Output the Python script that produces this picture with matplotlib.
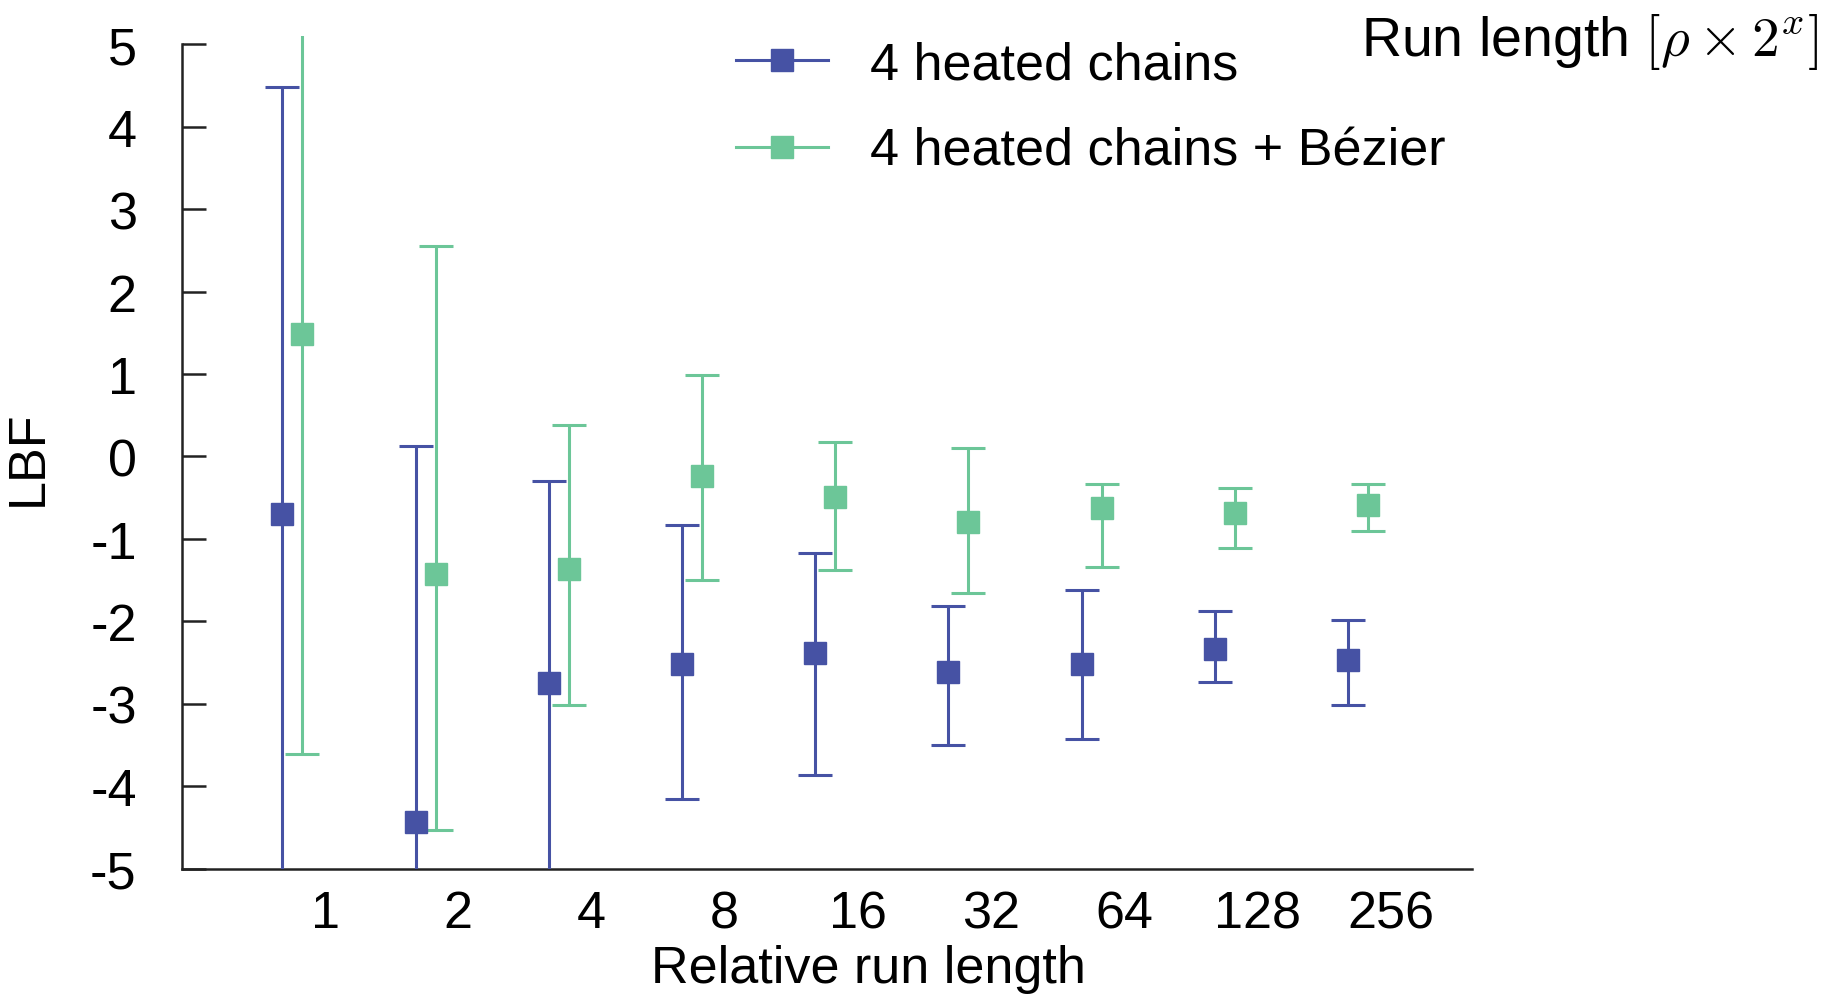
import matplotlib
matplotlib.use("Agg")
import matplotlib.pyplot as plt
from matplotlib.lines import Line2D
import numpy as np

plt.rcParams["font.family"] = ["Liberation Sans", "DejaVu Sans"]
plt.rcParams["mathtext.fontset"] = "cm"
plt.rcParams["axes.unicode_minus"] = False

# relative run lengths (x categories)
run_lengths = ["1", "2", "4", "8", "16", "32", "64", "128", "256"]

# 4 heated chains: mean LBF and interval ends
plain_mean = [-0.70, -4.43, -2.75, -2.52, -2.38, -2.61, -2.52, -2.34, -2.47]
plain_high = [4.48, 0.13, -0.30, -0.83, -1.17, -1.81, -1.62, -1.88, -1.99]
plain_low = [-6.5, -6.5, -6.5, -4.15, -3.86, -3.50, -3.43, -2.74, -3.02]

# 4 heated chains + Bezier
bezier_mean = [1.48, -1.42, -1.37, -0.24, -0.49, -0.80, -0.63, -0.69, -0.59]
bezier_high = [6.0, 2.55, 0.38, 0.99, 0.18, 0.10, -0.34, -0.38, -0.34]
bezier_low = [-3.61, -4.53, -3.02, -1.50, -1.38, -1.66, -1.34, -1.11, -0.90]

BLUE = "#4652a4"
GREEN = "#6cc698"
FS = 37.5
LW = 2.2

fig = plt.figure(figsize=(18.23, 9.95), dpi=100)
ax = fig.add_axes([0.1001, 0.126, 0.7073, 0.8368])

idx = np.arange(len(run_lengths))


def draw_series(x, mean, low, high, color):
    mean = np.array(mean)
    yerr = [mean - np.array(low), np.array(high) - mean]
    ax.errorbar(x, mean, yerr=yerr, fmt="s", color=color, ms=15.5,
                elinewidth=LW, capsize=12.5, capthick=LW, zorder=3)


draw_series(idx, plain_mean, plain_low, plain_high, BLUE)
draw_series(idx + 0.15, bezier_mean, bezier_low, bezier_high, GREEN)

ax.set_xlim(-0.75, 8.93)
ax.set_ylim(-5, 5.1)

for side in ("top", "right"):
    ax.spines[side].set_visible(False)
ax.spines["left"].set_bounds(-5, 5)
for side in ("left", "bottom"):
    ax.spines[side].set_linewidth(1.8)
    ax.spines[side].set_color("#222222")

ax.set_yticks(range(-5, 6))
ax.tick_params(axis="y", direction="in", length=17.5, width=1.8,
               color="#222222", labelsize=FS, pad=33)
ax.set_xticks(idx + 0.32)
ax.set_xticklabels(run_lengths)
ax.tick_params(axis="x", length=0, labelsize=FS, pad=15)

ax.set_ylabel("LBF", fontsize=FS)
ax.yaxis.set_label_coords(-0.101, 0.494)

fig.text(868 / 1823, 0.012, "Relative run length", fontsize=FS,
         ha="center", va="baseline")
fig.text(1819 / 1823, (995 - 56) / 995, r"Run length $[\rho \times 2^x]$",
         fontsize=40, ha="right", va="baseline")

handles = [
    Line2D([], [], color=BLUE, marker="s", ms=15.5, lw=LW),
    Line2D([], [], color=GREEN, marker="s", ms=15.5, lw=LW),
]
fig.legend(handles, ["4 heated chains", "4 heated chains + Bézier"],
           loc="upper left", bbox_to_anchor=(0.4037, 0.9585), frameon=False,
           fontsize=FS, borderpad=0, borderaxespad=0, handlelength=1.77,
           handletextpad=0.8, labelspacing=0.72)

fig.savefig("out.png", dpi=100)
